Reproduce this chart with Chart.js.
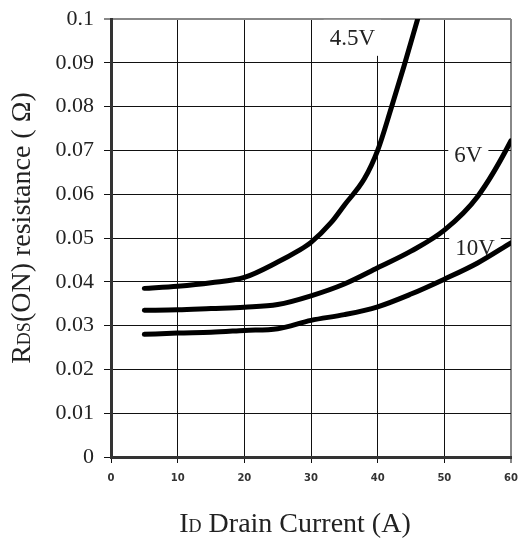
<!DOCTYPE html>
<html>
<head>
<meta charset="utf-8">
<script src="https://cdn.jsdelivr.net/npm/chart.js@4.4.0/dist/chart.umd.min.js"></script>
<style>
  html, body { margin: 0; padding: 0; background: #fff; }
  #wrap { width: 520px; height: 547px; }
</style>
</head>
<body>
<div id="wrap"><canvas id="grafico" width="520" height="547"></canvas></div>
<script>
// valores
var corrente45 = [5, 10, 15, 20, 25, 28, 30, 33, 35, 38, 40, 42, 44, 46];
var rds45 = [0.0385, 0.039, 0.0398, 0.041, 0.0445, 0.047, 0.049, 0.0535, 0.0575, 0.0635, 0.0700, 0.0795, 0.0895, 0.1];

var corrente6 = [5, 10, 15, 20, 25, 30, 35, 40, 45, 50, 55, 60, 61];
var rds6 = [0.0335, 0.0336, 0.0339, 0.0342, 0.0348, 0.0368, 0.0395, 0.0432, 0.047, 0.0518, 0.0595, 0.0722, 0.0755];

var corrente10 = [5, 10, 15, 20, 25, 30, 35, 40, 45, 50, 55, 60];
var rds10 = [0.028, 0.0283, 0.0285, 0.0289, 0.0293, 0.0312, 0.0325, 0.0343, 0.0372, 0.0406, 0.0443, 0.0489];

var ticksX = [0, 10, 20, 30, 40, 50, 60];
var ticksY = [0, 0.01, 0.02, 0.03, 0.04, 0.05, 0.06, 0.07, 0.08, 0.09, 0.1];

var rotulos = ['4.5V', '6V', '10V'];
var rotulosX = [36.2, 53.6, 54.6];
var rotulosY = [0.0957, 0.069, 0.0477];

function pontos(xs, ys) {
    var lista = [];
    for (var i = 0; i < xs.length; i++) {
        lista.push({ x: xs[i], y: ys[i] });
    }
    return lista;
}

function serie(xs, ys) {
    return {
        data: pontos(xs, ys),
        showLine: true,
        borderColor: '#000',
        borderWidth: 5,
        pointRadius: 0,
        cubicInterpolationMode: 'monotone',
        borderCapStyle: 'round',
        fill: false
    };
}

// rótulos das curvas com fundo branco
const rotulosPlugin = {
    id: 'rotulos',
    beforeDatasetsDraw(chart) {
        const ctx = chart.ctx;
        const sx = chart.scales.x, sy = chart.scales.y;
        ctx.save();
        ctx.font = '23px "Liberation Serif", serif';
        ctx.textAlign = 'center';
        ctx.textBaseline = 'middle';
        for (var i = 0; i < rotulos.length; i++) {
            var px = sx.getPixelForValue(rotulosX[i]);
            var py = sy.getPixelForValue(rotulosY[i]);
            var w = ctx.measureText(rotulos[i]).width + 12;
            ctx.fillStyle = '#fff';
            ctx.fillRect(px - w / 2, py - 18, w, 36);
            ctx.fillStyle = '#222';
            ctx.fillText(rotulos[i], px, py + 1);
        }
        ctx.restore();
    }
};

// títulos dos eixos com subscrito
const titulosPlugin = {
    id: 'titulos',
    afterDraw(chart) {
        const ctx = chart.ctx;
        ctx.save();
        ctx.fillStyle = '#222';
        ctx.textBaseline = 'alphabetic';

        var partesX = [['I', 28], ['D', 18], [' Drain Current (A)', 28]];
        var total = 0;
        partesX.forEach(function (p) {
            ctx.font = p[1] + 'px "Liberation Serif", serif';
            total += ctx.measureText(p[0]).width;
        });
        var x = 295 - total / 2;
        partesX.forEach(function (p) {
            ctx.font = p[1] + 'px "Liberation Serif", serif';
            ctx.fillText(p[0], x, 532);
            x += ctx.measureText(p[0]).width;
        });

        var partesY = [['R', 28], ['DS', 18], ['(ON) resistance ( \u03A9)', 28]];
        total = 0;
        partesY.forEach(function (p) {
            ctx.font = p[1] + 'px "Liberation Serif", serif';
            total += ctx.measureText(p[0]).width;
        });
        ctx.translate(30, 228);
        ctx.rotate(-Math.PI / 2);
        x = -total / 2;
        partesY.forEach(function (p) {
            ctx.font = p[1] + 'px "Liberation Serif", serif';
            ctx.fillText(p[0], x, 0);
            x += ctx.measureText(p[0]).width;
        });
        ctx.restore();
    }
};

const ctx = document.getElementById('grafico');
var myChart = new Chart(ctx, {
    type: 'scatter',
    data: {
        datasets: [serie(corrente45, rds45), serie(corrente6, rds6), serie(corrente10, rds10)]
    },
    options: {
        responsive: false,
        animation: false,
        layout: { padding: { top: 19, right: 9, left: 0, bottom: 0 } },
        plugins: {
            legend: { display: false },
            tooltip: { enabled: false }
        },
        scales: {
            x: {
                type: 'linear',
                min: 0,
                max: 60,
                afterFit: function (s) { s.height = 90; s.paddingLeft = 0; s.paddingRight = 0; },
                afterBuildTicks: function (s) { s.ticks = ticksX.map(function (v) { return { value: v }; }); },
                grid: {
                    color: function (c) { return c.index === 6 ? '#888' : '#111'; },
                    lineWidth: function (c) { return c.index === 6 ? 2 : 1; },
                    tickLength: 6
                },
                border: { color: '#333', width: 3 },
                ticks: {
                    padding: 9,
                    color: '#333',
                    font: { family: '"DejaVu Sans", sans-serif', size: 10, weight: 'bold' }
                }
            },
            y: {
                type: 'linear',
                min: 0,
                max: 0.1,
                afterFit: function (s) { s.width = 111; s.paddingTop = 0; s.paddingBottom = 0; },
                afterBuildTicks: function (s) { s.ticks = ticksY.map(function (v) { return { value: v }; }); },
                grid: {
                    color: function (c) { return c.index === 10 ? '#888' : '#111'; },
                    lineWidth: function (c) { return c.index === 10 ? 2 : 1; },
                    tickLength: 7
                },
                border: { color: '#333', width: 3 },
                ticks: {
                    padding: 10,
                    color: '#222',
                    font: { family: '"Liberation Serif", serif', size: 22 },
                    callback: function (v) { return String(parseFloat(v.toFixed(2))); }
                }
            }
        }
    },
    plugins: [rotulosPlugin, titulosPlugin]
});
</script>
</body>
</html>
